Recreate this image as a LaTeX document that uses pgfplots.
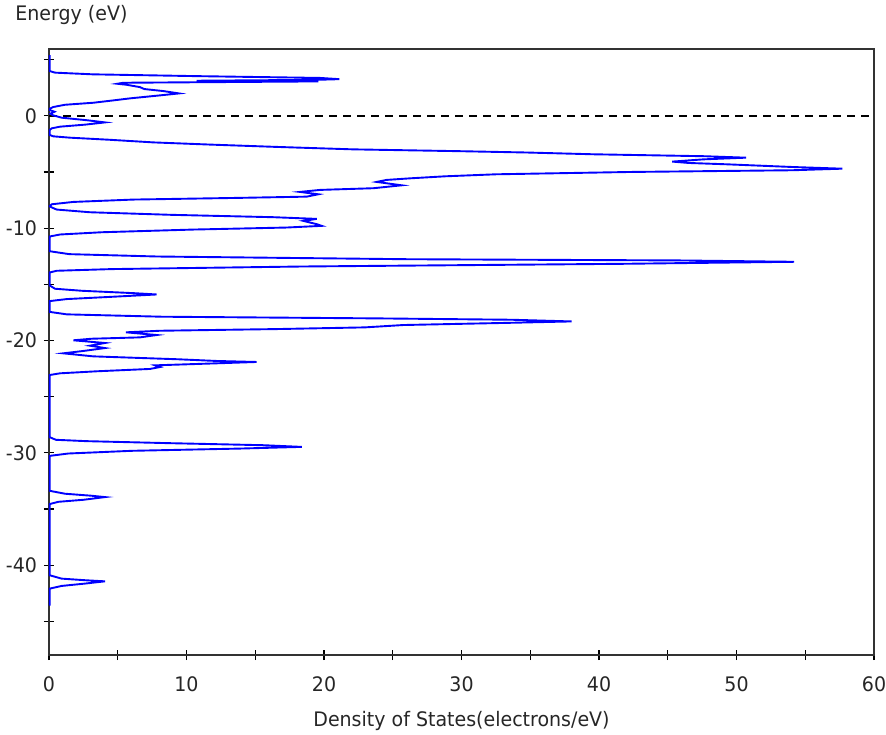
\documentclass[border=0pt]{standalone}
\usepackage{fontspec}
\setmainfont{DejaVu Sans}[FakeStretch=0.95]
\usepackage{pgfplots}
\pgfplotsset{compat=1.18}

\begin{document}
\fontsize{10}{12}\selectfont
\begin{tikzpicture}
\begin{axis}[
    name=dos,
    scale only axis,
    width=412.5pt, height=303.25pt,
    xmin=0, xmax=60, ymin=-48, ymax=6,
    axis line style={black!80, line width=1pt},
    xtick={0,10,...,60}, minor xtick={5,15,...,55},
    xticklabels={0,10,20,30,40,50,60},
    ytick={-40,-30,...,0}, minor ytick={-45,-35,...,5},
    yticklabels={-40,-30,-20,-10,0},
    tick pos=left, tick align=center,
    major tick length=5pt, minor tick length=5pt,
    tick style={black, line width=0.6pt},
    tick label style={font=\fontsize{10}{12}\selectfont, text=black!85},
    xticklabel style={yshift=-5pt},
    xlabel={Density of States(electrons/eV)},
    ylabel={Energy (eV)},
    every axis x label/.style={at={(axis description cs:0.5,0)}, anchor=base,
        inner sep=0pt, yshift=-35.8pt, text=black!85},
    every axis y label/.style={at={(axis description cs:0,1)}, anchor=base west,
        inner sep=0pt, xshift=-17pt, yshift=14pt, text=black!85},
]
% Fermi level
\addplot[black, line width=0.75pt, dash pattern=on 4pt off 3pt] coordinates {(0,0) (60,0)};
% total DOS (x = DOS, y = energy)
\addplot[blue, line width=0.95pt, mark=none] coordinates {
(0.05,5.40) (0.05,3.99) (0.44,3.85) (3.18,3.70) (10.74,3.54) (19.71,3.38)
(21.12,3.27) (19.47,3.21) (10.74,3.13) (19.59,3.07) (5.41,2.95) (4.97,2.86)
(5.65,2.77) (6.62,2.56) (6.93,2.39) (8.32,2.21) (9.45,2.00) (8.02,1.82)
(5.89,1.56) (4.68,1.38) (3.22,1.17) (1.16,0.99) (0.31,0.79) (0.05,0.64)
(0.05,0.52) (0.40,0.37) (0.10,0.20) (0.30,0.05) (0.92,-0.16)
(2.86,-0.40) (4.07,-0.58) (2.62,-0.78) (0.80,-0.96) (0.19,-1.11) (0.05,-1.26)
(0.05,-1.70) (0.31,-1.82) (1.53,-1.94) (4.32,-2.12) (7.59,-2.36) (11.83,-2.56)
(16.75,-2.77) (22.13,-2.98) (29.77,-3.14) (34.74,-3.26) (39.66,-3.42) (47.66,-3.59)
(50.69,-3.72) (47.59,-3.87) (45.33,-4.07) (46.50,-4.19) (49.28,-4.31) (54.06,-4.55)
(57.70,-4.70) (54.06,-4.84) (42.45,-4.99) (32.51,-5.20) (28.80,-5.38) (26.25,-5.56)
(24.56,-5.70) (23.83,-5.88) (25.65,-6.18) (23.59,-6.44) (19.71,-6.59) (18.25,-6.77)
(19.59,-6.98) (18.74,-7.19) (13.77,-7.30) (6.13,-7.45) (1.77,-7.66) (0.19,-7.87)
(0.05,-8.05) (0.22,-8.16) (0.56,-8.34) (2.98,-8.58) (8.92,-8.81) (16.32,-9.02)
(19.47,-9.17) (18.50,-9.35) (19.00,-9.50) (19.50,-9.65) (19.83,-9.79) (17.28,-9.94)
(10.50,-10.12) (3.83,-10.36) (0.80,-10.56) (0.05,-10.74)
(0.05,-12.05) (1.48,-12.31) (7.88,-12.52) (26.01,-12.76) (45.89,-12.87) (54.18,-12.99)
(41.72,-13.17) (18.38,-13.41) (4.56,-13.64) (0.56,-13.79) (0.05,-13.94)
(0.05,-15.10) (0.44,-15.39) (2.38,-15.57) (6.13,-15.78) (7.83,-15.90) (4.68,-16.10)
(1.29,-16.31) (0.05,-16.49)
(0.05,-17.45) (1.29,-17.67) (8.19,-17.88) (23.95,-18.03) (33.65,-18.15) (38.01,-18.30)
(33.65,-18.42) (25.77,-18.62) (22.98,-18.83) (16.56,-18.98) (8.07,-19.13) (5.60,-19.27)
(7.83,-19.51) (6.62,-19.72) (3.10,-19.84) (1.77,-19.98) (4.07,-20.22) (2.98,-20.46)
(4.07,-20.67) (2.50,-20.93) (1.04,-21.14) (3.22,-21.41) (9.41,-21.67) (12.19,-21.82)
(15.10,-21.91) (12.19,-22.03) (7.71,-22.21) (8.07,-22.36) (7.35,-22.53) (3.47,-22.74)
(0.80,-22.92) (0.05,-23.07)
(0.05,-28.61) (0.51,-28.84) (2.74,-28.96) (8.80,-29.14) (15.59,-29.32) (18.38,-29.47)
(13.89,-29.62) (6.01,-29.82) (1.41,-30.06) (0.05,-30.27)
(0.05,-33.38) (1.16,-33.64) (3.10,-33.82) (4.07,-33.94) (2.50,-34.18) (0.68,-34.36)
(0.05,-34.56)
(0.05,-40.90) (0.92,-41.20) (2.74,-41.35) (4.07,-41.44) (2.62,-41.64) (0.92,-41.85)
(0.05,-42.09) (0.05,-43.60)
};
\end{axis}
\pgfresetboundingbox
\path[use as bounding box] ([xshift=-24.5pt,yshift=-39.5pt]dos.south west)
    rectangle ([xshift=6pt,yshift=24.25pt]dos.north east);
\end{tikzpicture}
\end{document}
